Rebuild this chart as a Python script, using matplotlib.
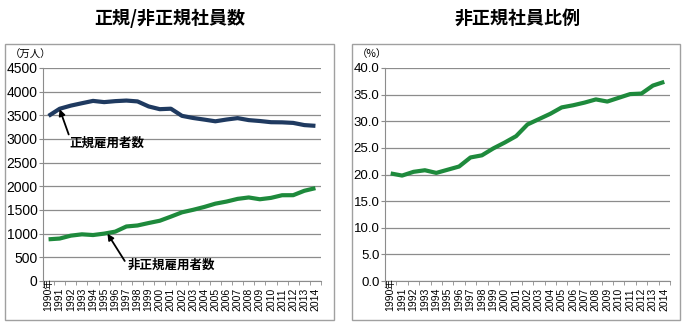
import matplotlib.pyplot as plt
from matplotlib.patches import Rectangle

plt.rcParams['font.family'] = ['Liberation Sans', 'Noto Sans CJK JP']

years = [str(y) for y in range(1990, 2015)]

seiki = [3488, 3639, 3705, 3756, 3805, 3779, 3800, 3812, 3794, 3688,
         3630, 3640, 3489, 3444, 3410, 3374, 3411, 3441, 3399, 3380,
         3355, 3352, 3340, 3294, 3278]
hiseiki = [881, 897, 958, 986, 971, 1001, 1043, 1152, 1173, 1225,
           1273, 1360, 1451, 1504, 1564, 1634, 1678, 1735, 1765, 1727,
           1756, 1812, 1813, 1906, 1962]
hiritsu = [20.2, 19.8, 20.5, 20.8, 20.3, 20.9, 21.5, 23.2, 23.6, 24.9,
           26.0, 27.2, 29.4, 30.4, 31.4, 32.6, 33.0, 33.5, 34.1, 33.7,
           34.4, 35.1, 35.2, 36.7, 37.4]

navy = '#1f3a60'
green = '#1e8a3c'
grey = '#8c8c8c'

fig = plt.figure(figsize=(6.9, 3.24), dpi=100)

# panel frames
for x0, x1 in [(5, 334), (352, 680)]:
    fig.patches.append(Rectangle((x0 / 690, 1 - 320 / 324), (x1 - x0) / 690, 276 / 324,
                                 transform=fig.transFigure, fill=False,
                                 edgecolor='#a0a0a0', linewidth=1))

fig.text(170 / 690, 1 - 18 / 324, '正規/非正規社員数', ha='center', va='center',
         fontsize=13, fontweight='bold', family='Noto Sans CJK JP')
fig.text(518 / 690, 1 - 18 / 324, '非正規社員比例', ha='center', va='center',
         fontsize=13, fontweight='bold', family='Noto Sans CJK JP')


def style(ax, ysize):
    ax.set_xlim(-0.5, len(years) - 0.5)
    ax.set_xticks(range(len(years)))
    ax.set_xticklabels(years, rotation=90, fontsize=7.5)
    ax.set_xticks([i - 0.5 for i in range(len(years) + 1)], minor=True)
    ax.tick_params(axis='x', which='major', length=0, pad=5)
    ax.tick_params(axis='x', which='minor', length=3, color=grey, direction='out')
    ax.tick_params(axis='y', length=3, color=grey, labelsize=ysize, pad=1)
    ax.grid(axis='y', color=grey, linewidth=0.9)
    ax.set_axisbelow(True)
    for s in ['top', 'right']:
        ax.spines[s].set_visible(False)
    for s in ['left', 'bottom']:
        ax.spines[s].set_color(grey)
    ax.annotate('年', xy=(0, 0), xycoords=ax.get_xaxis_transform(),
                xytext=(0, 1), textcoords='offset points', rotation=90,
                ha='center', va='top', fontsize=7, family='Noto Sans CJK JP')


ax1 = fig.add_axes([43 / 690, 1 - 281 / 324, 278 / 690, 213 / 324])
x = range(len(years))
ax1.plot(x, seiki, color=navy, linewidth=3, solid_capstyle='butt')
ax1.plot(x, hiseiki, color=green, linewidth=3, solid_capstyle='butt')
ax1.set_ylim(0, 4500)
ax1.set_yticks(range(0, 4501, 500))
style(ax1, 10)
ax1.text(-0.12, 1.04, '（万人）', transform=ax1.transAxes, fontsize=7.5,
         ha='left', va='bottom', family='Noto Sans CJK JP')
ax1.annotate('正規雇用者数', xy=(1, 3630), xytext=(1.9, 2900),
             fontsize=9, fontweight='bold', family='Noto Sans CJK JP',
             ha='left', va='center',
             arrowprops=dict(arrowstyle='-|>', color='black', lw=1.3,
                             shrinkA=0, shrinkB=0, mutation_scale=9,
                             relpos=(0, 1)))
ax1.annotate('非正規雇用者数', xy=(5.3, 1000), xytext=(7.1, 330),
             fontsize=9, fontweight='bold', family='Noto Sans CJK JP',
             ha='left', va='center',
             arrowprops=dict(arrowstyle='-|>', color='black', lw=1.3,
                             shrinkA=0, shrinkB=0, mutation_scale=9,
                             relpos=(0, 0.5)))

ax2 = fig.add_axes([385 / 690, 1 - 281 / 324, 285 / 690, 213 / 324])
ax2.plot(x, hiritsu, color=green, linewidth=3, solid_capstyle='butt')
ax2.set_ylim(0, 40)
ax2.set_yticks(range(0, 41, 5))
ax2.set_yticklabels(['%.1f' % v for v in range(0, 41, 5)])
style(ax2, 9.5)
ax2.text(-0.1, 1.04, '（%）', transform=ax2.transAxes, fontsize=7.5,
         ha='left', va='bottom', family='Noto Sans CJK JP')

plt.savefig('out.png', dpi=100)
